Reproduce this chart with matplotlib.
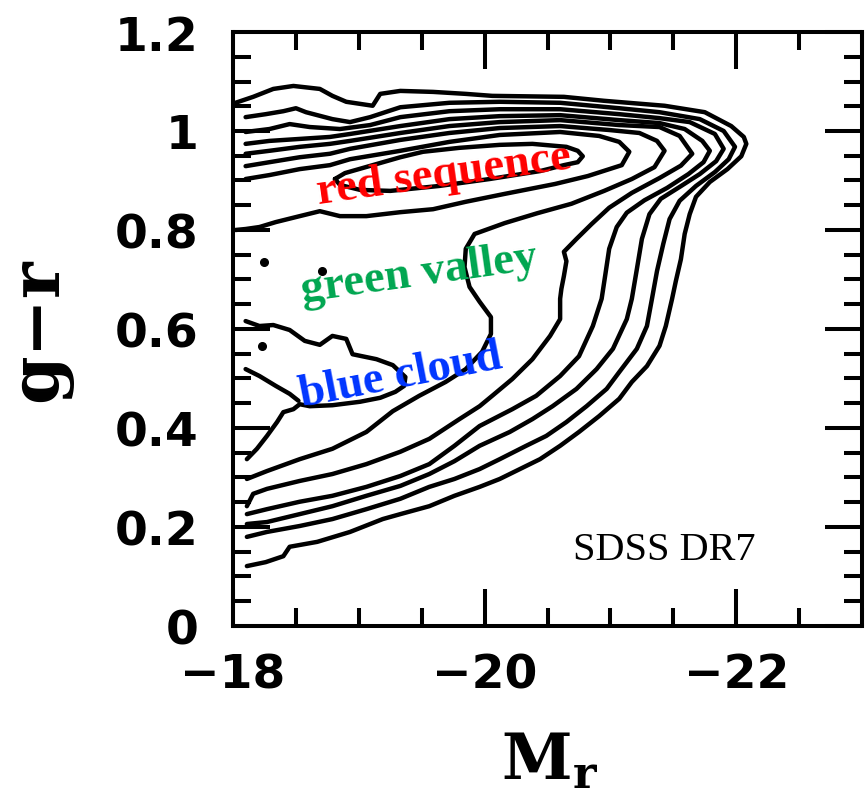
import matplotlib
matplotlib.use("Agg")
import matplotlib.pyplot as plt
from matplotlib.ticker import FixedLocator, FixedFormatter, MultipleLocator

plt.rcParams['font.family'] = 'DejaVu Sans'
plt.rcParams['font.weight'] = 'bold'
plt.rcParams['mathtext.fontset'] = 'dejavuserif'

# number-density contours in the (M_r, g-r) plane, outermost level first.
# k1..k6 start on the faint edge at the top, wrap round the bright end and
# come back to the faint edge at the bottom.
k1 = [(-18.02, 1.057), (-18.16, 1.069), (-18.32, 1.085), (-18.48, 1.091), (-18.69, 1.085),
      (-18.79, 1.071), (-18.90, 1.059), (-19.11, 1.051), (-19.17, 1.075), (-19.33, 1.081),
      (-19.59, 1.079), (-19.85, 1.075), (-20.06, 1.071), (-20.63, 1.069), (-20.95, 1.061),
      (-21.43, 1.051), (-21.75, 1.038), (-21.96, 1.010), (-22.06, 0.988), (-22.08, 0.974),
      (-22.04, 0.949), (-21.93, 0.923), (-21.79, 0.897), (-21.68, 0.867), (-21.63, 0.832),
      (-21.59, 0.792), (-21.56, 0.741), (-21.52, 0.697), (-21.49, 0.661), (-21.44, 0.606),
      (-21.39, 0.566), (-21.29, 0.525), (-21.17, 0.493), (-21.07, 0.459), (-20.91, 0.424),
      (-20.75, 0.392), (-20.60, 0.364), (-20.44, 0.337), (-20.28, 0.317), (-20.12, 0.297),
      (-19.96, 0.281), (-19.76, 0.263), (-19.56, 0.242), (-19.33, 0.226), (-19.19, 0.216),
      (-18.93, 0.190), (-18.67, 0.170), (-18.45, 0.160), (-18.40, 0.141), (-18.26, 0.129),
      (-18.11, 0.121)]
k2 = [(-18.10, 1.028), (-18.26, 1.034), (-18.40, 1.040), (-18.50, 1.046), (-18.58, 1.038),
      (-18.79, 1.024), (-18.93, 1.018), (-19.09, 1.028), (-19.33, 1.048), (-19.72, 1.057),
      (-20.12, 1.059), (-20.60, 1.057), (-21.07, 1.046), (-21.39, 1.038), (-21.71, 1.024),
      (-21.90, 1.000), (-21.99, 0.968), (-21.94, 0.943), (-21.83, 0.917), (-21.68, 0.889),
      (-21.55, 0.859), (-21.47, 0.822), (-21.42, 0.772), (-21.37, 0.717), (-21.33, 0.661),
      (-21.29, 0.606), (-21.21, 0.560), (-21.07, 0.513), (-20.97, 0.479), (-20.81, 0.444),
      (-20.65, 0.412), (-20.49, 0.384), (-20.33, 0.364), (-20.12, 0.337), (-19.96, 0.317),
      (-19.76, 0.297), (-19.56, 0.281), (-19.33, 0.257), (-19.06, 0.236), (-18.79, 0.216),
      (-18.53, 0.202), (-18.27, 0.190), (-18.11, 0.180)]
k3 = [(-18.10, 0.998), (-18.29, 1.004), (-18.45, 1.014), (-18.61, 1.008), (-18.85, 1.004),
      (-19.09, 1.012), (-19.33, 1.028), (-19.72, 1.040), (-20.12, 1.044), (-20.60, 1.044),
      (-21.07, 1.034), (-21.39, 1.026), (-21.63, 1.018), (-21.83, 0.994), (-21.90, 0.964),
      (-21.84, 0.939), (-21.71, 0.913), (-21.55, 0.887), (-21.40, 0.863), (-21.31, 0.832),
      (-21.25, 0.782), (-21.21, 0.721), (-21.17, 0.661), (-21.13, 0.620), (-21.02, 0.560),
      (-20.89, 0.519), (-20.73, 0.479), (-20.54, 0.444), (-20.38, 0.418), (-20.20, 0.392),
      (-19.96, 0.364), (-19.76, 0.333), (-19.56, 0.307), (-19.33, 0.283), (-19.06, 0.263),
      (-18.79, 0.242), (-18.53, 0.226), (-18.27, 0.210), (-18.11, 0.206)]
k4 = [(-18.10, 0.974), (-18.29, 0.980), (-18.53, 0.984), (-18.77, 0.988), (-18.93, 0.994),
      (-19.33, 1.010), (-19.72, 1.024), (-20.12, 1.030), (-20.60, 1.032), (-21.07, 1.022),
      (-21.39, 1.016), (-21.59, 1.004), (-21.73, 0.980), (-21.79, 0.960), (-21.74, 0.937),
      (-21.62, 0.913), (-21.45, 0.885), (-21.27, 0.860), (-21.13, 0.835), (-21.05, 0.806),
      (-20.99, 0.762), (-20.96, 0.711), (-20.93, 0.661), (-20.86, 0.606), (-20.75, 0.545),
      (-20.60, 0.505), (-20.41, 0.465), (-20.22, 0.438), (-19.96, 0.404), (-19.76, 0.364),
      (-19.56, 0.327), (-19.33, 0.303), (-19.06, 0.281), (-18.79, 0.263), (-18.53, 0.251),
      (-18.27, 0.236), (-18.11, 0.226)]
k5 = [(-18.10, 0.954), (-18.29, 0.960), (-18.53, 0.968), (-18.77, 0.974), (-18.93, 0.980),
      (-19.33, 0.996), (-19.72, 1.010), (-20.12, 1.018), (-20.60, 1.022), (-21.07, 1.012),
      (-21.39, 1.008), (-21.55, 0.990), (-21.65, 0.954), (-21.56, 0.930), (-21.39, 0.905),
      (-21.17, 0.875), (-20.99, 0.845), (-20.85, 0.812), (-20.73, 0.782), (-20.63, 0.756),
      (-20.65, 0.737), (-20.63, 0.707), (-20.61, 0.681), (-20.60, 0.661), (-20.60, 0.620),
      (-20.52, 0.586), (-20.38, 0.539), (-20.22, 0.499), (-20.06, 0.465), (-19.96, 0.444),
      (-19.80, 0.418), (-19.56, 0.378), (-19.33, 0.352), (-19.06, 0.327), (-18.79, 0.307),
      (-18.53, 0.293), (-18.27, 0.277), (-18.16, 0.267), (-18.11, 0.242)]
k6 = [(-18.10, 0.929), (-18.29, 0.937), (-18.53, 0.947), (-18.77, 0.954), (-18.93, 0.964),
      (-19.33, 0.982), (-19.72, 0.996), (-20.12, 1.006), (-20.60, 1.010), (-20.99, 1.002),
      (-21.23, 0.996), (-21.37, 0.980), (-21.43, 0.960), (-21.35, 0.927), (-21.17, 0.903),
      (-20.95, 0.879), (-20.69, 0.853), (-20.42, 0.834), (-20.16, 0.814), (-19.92, 0.792),
      (-19.85, 0.762), (-19.84, 0.725), (-19.88, 0.685), (-19.96, 0.655), (-20.05, 0.624),
      (-20.05, 0.590), (-19.98, 0.554), (-19.85, 0.519), (-19.69, 0.493), (-19.48, 0.465),
      (-19.27, 0.434), (-19.06, 0.392), (-18.79, 0.358), (-18.53, 0.337), (-18.27, 0.313),
      (-18.11, 0.297)]
# k7 closes on the faint edge just under the red sequence
k7 = [(-18.10, 0.903), (-18.29, 0.911), (-18.53, 0.923), (-18.77, 0.931), (-18.93, 0.943),
      (-19.33, 0.960), (-19.72, 0.978), (-20.12, 0.992), (-20.60, 0.998), (-20.91, 0.990),
      (-21.07, 0.978), (-21.15, 0.958), (-21.09, 0.931), (-20.82, 0.909), (-20.56, 0.893),
      (-20.16, 0.873), (-19.85, 0.857), (-19.59, 0.842), (-19.33, 0.836), (-19.06, 0.828),
      (-18.85, 0.828), (-18.69, 0.838), (-18.53, 0.828), (-18.34, 0.816), (-18.21, 0.806),
      (-18.10, 0.802), (-18.02, 0.800)]
# peak of the red sequence
red_peak = [(-18.81, 0.903), (-18.89, 0.915), (-19.11, 0.931), (-19.33, 0.947), (-19.51, 0.958),
            (-19.80, 0.966), (-20.12, 0.972), (-20.38, 0.974), (-20.65, 0.968), (-20.74, 0.960),
            (-20.78, 0.949), (-20.74, 0.937), (-20.63, 0.931), (-20.44, 0.919), (-20.04, 0.903),
            (-19.64, 0.889), (-19.25, 0.879), (-19.01, 0.881), (-18.85, 0.891), (-18.81, 0.903)]
# blue cloud, two pieces touching the faint edge
blue_peak = [(-18.10, 0.616), (-18.21, 0.606), (-18.32, 0.608), (-18.45, 0.598), (-18.57, 0.576),
             (-18.69, 0.568), (-18.79, 0.586), (-18.90, 0.580), (-18.95, 0.549), (-19.14, 0.539),
             (-19.27, 0.527), (-19.37, 0.503), (-19.36, 0.485), (-19.29, 0.473), (-19.17, 0.461),
             (-19.01, 0.453), (-18.79, 0.446), (-18.61, 0.444), (-18.53, 0.448), (-18.48, 0.438),
             (-18.40, 0.432), (-18.35, 0.412), (-18.27, 0.384), (-18.19, 0.358), (-18.11, 0.337)]
blue_spur = [(-18.10, 0.519), (-18.21, 0.505), (-18.34, 0.485), (-18.45, 0.469), (-18.52, 0.455)]

# isolated one-cell islands
island_mr = [-18.25, -18.23, -18.71]
island_gr = [0.735, 0.566, 0.717]

x_ticks = [-18, -20, -22]
x_ticklabels = ['\u221218', '\u221220', '\u221222']
y_ticks = [0, 0.2, 0.4, 0.6, 0.8, 1.0, 1.2]
y_ticklabels = ['0', '0.2', '0.4', '0.6', '0.8', '1', '1.2']

fig = plt.figure(figsize=(8.65, 8.03), dpi=100)
ax = fig.add_axes([0.2694, 0.2192, 0.7272, 0.7397])

for path in [k1, k2, k3, k4, k5, k6, k7, red_peak, blue_peak, blue_spur]:
    xs = [p[0] for p in path]
    ys = [p[1] for p in path]
    ax.plot(xs, ys, color='black', lw=3.2, solid_joinstyle='round', solid_capstyle='round')
ax.plot(island_mr, island_gr, 'o', color='black', ms=5.5)

ax.set_xlim(-18, -23)
ax.set_ylim(0, 1.2)
ax.xaxis.set_major_locator(FixedLocator(x_ticks))
ax.xaxis.set_major_formatter(FixedFormatter(x_ticklabels))
ax.xaxis.set_minor_locator(MultipleLocator(0.5))
ax.yaxis.set_major_locator(FixedLocator(y_ticks))
ax.yaxis.set_major_formatter(FixedFormatter(y_ticklabels))
ax.yaxis.set_minor_locator(MultipleLocator(0.05))
ax.tick_params(which='both', direction='in', top=True, right=True, width=2.9, labelsize=34)
ax.tick_params(which='major', length=26.5)
ax.tick_params(which='minor', length=13)
ax.tick_params(axis='y', pad=25)
ax.tick_params(axis='x', pad=19)
for s in ax.spines.values():
    s.set_linewidth(2.9)

ax.set_ylabel('g\u2212r', family='DejaVu Serif', weight='bold', fontsize=50)
ax.yaxis.set_label_coords(-0.256, 0.5)
ax.set_xlabel(r'$\mathbf{M_r}$', fontsize=46)
ax.xaxis.set_label_coords(0.504, -0.173)

serif = 'Liberation Serif'
ax.text(-19.68, 0.913, 'red sequence', color='#ff0000', family=serif, weight='bold',
        fontsize=33.5, rotation=8, ha='center', va='center', rotation_mode='anchor', zorder=5)
ax.text(-19.48, 0.711, 'green valley', color='#00a650', family=serif, weight='bold',
        fontsize=33.5, rotation=8, ha='center', va='center', rotation_mode='anchor', zorder=5)
ax.text(-19.33, 0.505, 'blue cloud', color='#0035ff', family=serif, weight='bold',
        fontsize=33.5, rotation=11, ha='center', va='center', rotation_mode='anchor', zorder=5)
ax.text(-21.43, 0.154, 'SDSS DR7', color='black', family=serif, weight='normal',
        fontsize=29, ha='center', va='center')

fig.savefig('out.png', dpi=100)
